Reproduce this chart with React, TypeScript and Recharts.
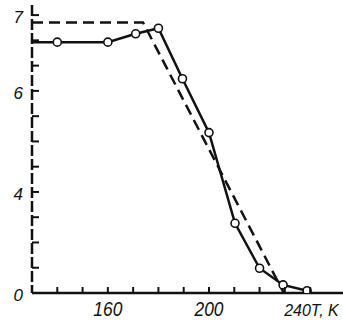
import React from 'react';
import { LineChart, Line, XAxis, YAxis } from 'recharts';

// temperature, K
const measuredT = [130, 140, 160, 171, 180, 189.5, 200, 210.3, 220, 229.3, 238.8];
// level in axis-grid units (one grid step per minor tick)
const measuredLevel = [9.93, 9.93, 9.93, 10.26, 10.48, 8.48, 6.35, 2.76, 0.98, 0.32, 0.09];

const idealT = [130, 173.9, 229.6];
const idealLevel = [10.71, 10.71, 0];

const xTicks = [140, 150, 160, 170, 180, 190, 200, 210, 220, 230, 240];
const xTickLabels = ['160', '200', '240T, K'];
const xLabelValues = [160, 200, 240];

const yTicks = [0, 1, 2, 3, 4, 5, 6, 7, 8, 9, 10, 11];
const yLabelValues = [0, 4, 8, 11];
const yTickLabels = ['0', '4', '6', '7'];

const ink = '#111';
const font = '"Liberation Sans", sans-serif';

const measured = measuredT.map((t, i) => ({ t, v: measuredLevel[i] }));
const ideal = idealT.map((t, i) => ({ t, v: idealLevel[i] }));

const XTick = (props: any) => {
    const { x, y, payload } = props;
    const i = xLabelValues.indexOf(payload.value);
    const last = i === 2;
    return (
        <g>
            <line x1={x} x2={x} y1={y} y2={y - 6} stroke={ink} strokeWidth={2} />
            {i >= 0 && (
                <text
                    x={last ? x - 26 : x - 14.5}
                    y={y + 23}
                    textLength={last ? undefined : 29}
                    lengthAdjust={last ? undefined : 'spacingAndGlyphs'}
                    fontFamily={font}
                    fontStyle="italic"
                    fontSize={last ? 16 : 20}
                    fill={ink}
                >
                    {xTickLabels[i]}
                </text>
            )}
        </g>
    );
};

const YTick = (props: any) => {
    const { x, y, payload } = props;
    const i = yLabelValues.indexOf(payload.value);
    return (
        <g>
            {payload.value !== 0 && (
                <line x1={x} x2={x + 7} y1={y} y2={y} stroke={ink} strokeWidth={2} />
            )}
            {i >= 0 && (
                <text
                    x={x - 9}
                    y={y + 8}
                    textAnchor="end"
                    fontFamily={font}
                    fontStyle="italic"
                    fontSize={17}
                    fill={ink}
                >
                    {yTickLabels[i]}
                </text>
            )}
        </g>
    );
};

const Dot = (props: any) => {
    const { cx, cy, index } = props;
    if (index === 0) return <g key={index} />;
    return <circle key={index} cx={cx} cy={cy} r={4} fill="#fff" stroke={ink} strokeWidth={1.6} />;
};

export default function App() {
    return (
        <div style={{ position: 'absolute', left: 0, top: 0, background: '#fff' }}>
            <LineChart width={343} height={320} margin={{ top: 5, right: 0, bottom: 0, left: 0 }}>
                <XAxis
                    type="number"
                    dataKey="t"
                    domain={[130, 253]}
                    ticks={xTicks}
                    allowDataOverflow
                    height={27}
                    tickSize={0}
                    tickMargin={0}
                    tickLine={false}
                    tick={<XTick />}
                    axisLine={{ stroke: ink, strokeWidth: 2.5 }}
                    interval={0}
                />
                <YAxis
                    type="number"
                    domain={[0, 11.4]}
                    ticks={yTicks}
                    allowDataOverflow
                    width={32}
                    tickSize={0}
                    tickMargin={0}
                    tickLine={false}
                    tick={<YTick />}
                    axisLine={{ stroke: ink, strokeWidth: 2.5, strokeDasharray: '11 3' }}
                    interval={0}
                />
                <Line
                    data={ideal}
                    dataKey="v"
                    type="linear"
                    stroke={ink}
                    strokeWidth={2.5}
                    strokeDasharray="11 6"
                    dot={false}
                    isAnimationActive={false}
                />
                <Line
                    data={measured}
                    dataKey="v"
                    type="linear"
                    stroke={ink}
                    strokeWidth={2.5}
                    dot={<Dot />}
                    isAnimationActive={false}
                />
            </LineChart>
        </div>
    );
}
